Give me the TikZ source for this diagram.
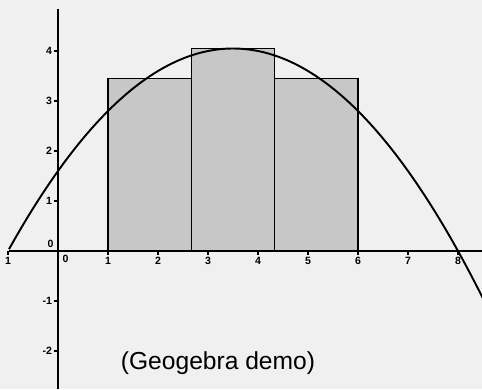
\documentclass[tikz,border=0pt]{standalone}
\usepackage{fontspec}
\setmainfont{Liberation Sans}
\usepackage{tikz}

\tikzset{
  bar/.style={draw, fill=black!22, line width=0.8pt},
  ticklab/.style={font=\fontsize{6}{6}\selectfont\bfseries, inner sep=1pt}
}

\begin{document}
\begin{tikzpicture}[x=1cm, y=1cm]
\useasboundingbox[fill=black!6] (-1.16,-2.76) rectangle (8.48,5.02);
\clip (-1.16,-2.76) rectangle (8.48,5.02);

% midpoint rectangles
\draw[bar] (1,0) rectangle (2.6667,3.4444);
\draw[bar] (2.6667,0) rectangle (4.3333,4.05);
\draw[bar] (4.3333,0) rectangle (6,3.4444);

% axes
\draw[line width=0.8pt] (-0.98,0) -- (8.48,0);
\draw[line width=0.8pt] (0,4.85) -- (0,-2.76);
\foreach \x/\t in {-1/1,1/1,2/2,3/3,4/4,5/5,6/6,7/7,8/8} {
  \draw[line width=0.6pt] (\x,0) -- (\x,-0.08);
  \node (xl\x) [ticklab, below] at (\x,-0.08) {\t};
}
\node (xl0) [ticklab, below right] at (0.05,-0.05) {0};
\foreach \y in {-2,-1,1,2,3,4} {
  \draw[line width=0.6pt] (-0.08,\y) -- (0,\y);
  \node (yl\y) [ticklab, left] at (-0.08,\y) {\y};
}
\node (yl0) [ticklab, above left] at (-0.05,0.02) {0};

% the parabola
\draw[line width=1.1pt, domain=-0.98:8.5, samples=80, smooth]
  plot (\x, {-0.2*(\x+1)*(\x-8)});

\node (demo) [font=\fontsize{14}{16}\selectfont] at (3.2,-2.24) {(Geogebra demo)};
\end{tikzpicture}
\end{document}
